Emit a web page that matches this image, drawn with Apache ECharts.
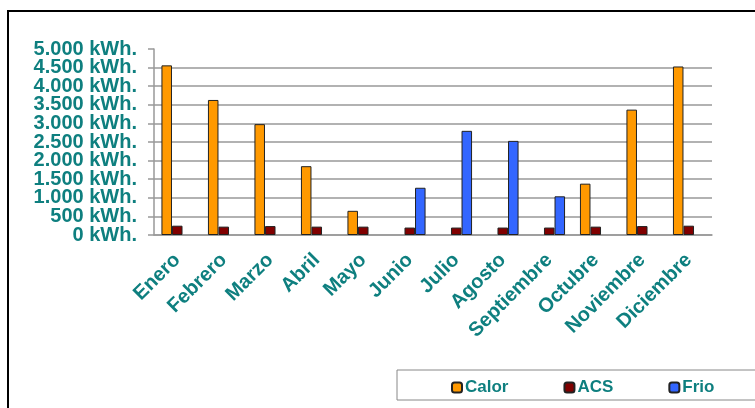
<!DOCTYPE html>
<html>
<head>
<meta charset="utf-8">
<script src="https://cdn.jsdelivr.net/npm/echarts@6/dist/echarts.min.js"></script>
<style>
html,body{margin:0;padding:0;background:#fff;}
#c{width:755px;height:408px;}
</style>
</head>
<body>
<div id="c"></div>
<script>
const months = ['Enero','Febrero','Marzo','Abril','Mayo','Junio','Julio','Agosto','Septiembre','Octubre','Noviembre','Diciembre'];
const calor = [4560, 3630, 2980, 1850, 650, null, null, null, null, 1380, 3370, 4530];
const acs   = [250, 225, 240, 225, 225, 200, 200, 200, 200, 225, 240, 250];
const frio  = [null, null, null, null, null, 1270, 2800, 2530, 1040, null, null, null];
const seriesNames = ['Calor','ACS','Frio'];
const colors = ['#FF9900','#800000','#3366FF'];

const teal = '#0E7F7F';
const font = 'Liberation Sans, Arial, sans-serif';
const chart = echarts.init(document.getElementById('c'));
function fmt(v){ return v === 0 ? '0 kWh.' : (v >= 1000 ? (v/1000).toFixed(3) : String(v)) + ' kWh.'; }
const data = [calor, acs, frio];
const labelBase = {margin:17, color:teal, fontWeight:'bold', fontSize:20, fontFamily:font,
  showMinLabel:true, showMaxLabel:true, hideOverlap:false};
chart.setOption({
  animation:false,
  backgroundColor:'#fff',
  graphic:[
    {type:'polyline', shape:{points:[[8,420],[8,11],[770,11]]}, style:{stroke:'#000', lineWidth:2, fill:null}, z:100},
    {type:'rect', shape:{x:397, y:370, width:400, height:30}, style:{stroke:'#888', lineWidth:1, fill:'#fff'}, z:0}
  ],
  grid:{left:154, right:43, top:49, bottom:173, containLabel:false},
  legend:{
    left:446, top:374, itemWidth:10, itemHeight:10, itemGap:55,
    data:seriesNames,
    textStyle:{color:teal, fontWeight:'bold', fontSize:17, fontFamily:font, padding:[0,0,0,-2]},
    z:10
  },
  xAxis:{
    type:'category', data:months,
    axisLine:{lineStyle:{color:'#999', width:1.5}},
    axisTick:{show:false},
    axisLabel:{rotate:45, margin:22, color:teal, fontWeight:'bold', fontSize:20, fontFamily:font, interval:0, hideOverlap:false}
  },
  yAxis:[{
    type:'value', min:0, max:5000, interval:500, position:'left',
    axisLine:{show:true, lineStyle:{color:'#999', width:1.5}},
    axisTick:{show:true, length:6, lineStyle:{color:'#999', width:1.5}},
    splitLine:{show:true, showMaxLine:false, lineStyle:{color:'#999', width:1.5}},
    axisLabel:Object.assign({}, labelBase, {formatter:(v)=> v % 1000 === 0 ? fmt(v) : ''})
  },{
    type:'value', min:0, max:5000, interval:500, position:'left', offset:0,
    axisLine:{show:false}, axisTick:{show:false}, splitLine:{show:false},
    axisLabel:Object.assign({}, labelBase, {formatter:(v)=> v % 1000 === 500 ? fmt(v) : ''})
  }],
  series: seriesNames.map((n,i)=>({
    name:n, type:'bar', data:data[i], yAxisIndex:0,
    barGap:'0%', barCategoryGap:'32%',
    itemStyle:{color:colors[i], borderColor:'#222', borderWidth:1}
  }))
});
</script>
</body>
</html>
